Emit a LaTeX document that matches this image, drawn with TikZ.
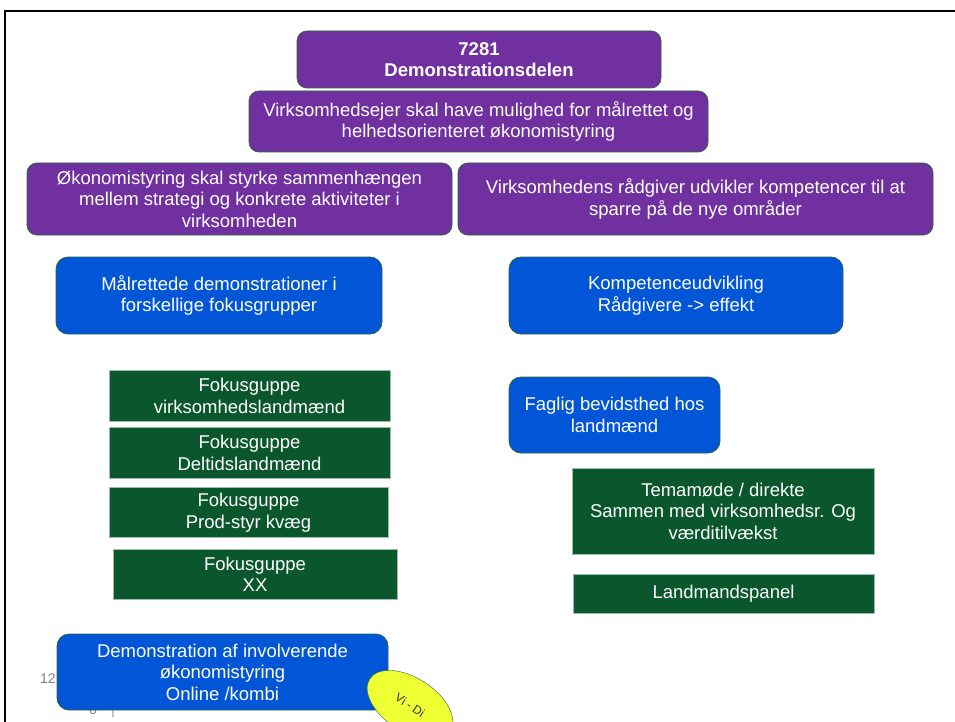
\documentclass[tikz,border=0pt]{standalone}
\usepackage{fontspec}
\setmainfont{Liberation Sans}
\usetikzlibrary{shapes.geometric}
\definecolor{lilla}{HTML}{7030A0}
\definecolor{blaa}{HTML}{0056D6}
\definecolor{groen}{HTML}{0B572D}
\definecolor{kant}{HTML}{2E6440}
\definecolor{gul}{HTML}{EEFF33}

\begin{document}
\begin{tikzpicture}[x=1pt, y=-1pt,
 every node/.style={font=\fontsize{18.5}{21.5}\selectfont, align=center, inner sep=0pt},
 purplebox/.style={draw=kant, fill=lilla, text=white, rounded corners=10pt, line width=0.8pt},
 bluebox/.style={draw=kant, fill=blaa, text=white, rounded corners=12pt, line width=0.8pt},
 greenbox/.style={draw=groen!40, fill=groen, text=white, line width=0.6pt},
 slidetext/.style={text=gray, font=\fontsize{14}{16}\selectfont}]

\useasboundingbox (0,0) rectangle (955,722);

\draw[line width=2pt] (5,740) -- (5,11) -- (970,11);

\node[slidetext] (nr) at (48,679) {12};
\node[slidetext] (sek) at (93,710) {6};
\node[slidetext, font=\fontsize{11}{13}\selectfont] (streg) at (113,713) {|};

\node[purplebox, minimum width=364pt, minimum height=57pt] (t) at (479,59.5) {\textbf{7281}\\\textbf{Demonstrationsdelen}};
\node[purplebox, minimum width=459pt, minimum height=61pt] (g) at (478.5,121.5) {Virksomhedsejer skal have mulighed for målrettet og\\helhedsorienteret økonomistyring};
\node[purplebox, minimum width=425pt, minimum height=72pt] (ml) at (239.5,199) {Økonomistyring skal styrke sammenhængen\\mellem strategi og konkrete aktiviteter i\\virksomheden};
\node[purplebox, minimum width=475pt, minimum height=72pt] (mr) at (695.5,199) {Virksomhedens rådgiver udvikler kompetencer til at\\sparre på de nye områder};

\node[bluebox, minimum width=326pt, minimum height=77pt] (bl) at (219,295.5) {Målrettede demonstrationer i\\forskellige fokusgrupper};
\node[bluebox, minimum width=334pt, minimum height=77pt] (br) at (676,295.5) {Kompetenceudvikling\\Rådgivere -> effekt};

\foreach \n/\x/\y/\w/\t in {1/249.5/396/281/virksomhedslandmænd, 2/249.5/453/281/Deltidslandmænd, 3/248.5/512.5/279/Prod-styr kvæg, 4/255/574.5/284/XX}
\node[greenbox, minimum width=\w pt, minimum height=50.5pt] (f\n) at (\x,\y) {Fokusguppe\\\t};

\node[bluebox, minimum width=211pt, minimum height=76pt] (fb) at (614.5,415) {Faglig bevidsthed hos\\landmænd};
\node[greenbox, minimum width=302pt, minimum height=86pt] (tm) at (723,511) {Temamøde / direkte\\Sammen med virksomhedsr. Og\\værditilvækst};
\node[greenbox, minimum width=301pt, minimum height=39pt] (lp) at (723.5,593.5) {Landmandspanel};

\node[bluebox, minimum width=331pt, minimum height=76pt] (dk) at (222.5,672) {Demonstration af involverende\\økonomistyring\\Online /kombi};

\node[ellipse, draw=kant, fill=gul, minimum width=96pt, minimum height=54pt, rotate=-33, text=black!80, font=\fontsize{12}{14}\selectfont] (vd) at (410,705) {Vi - Di};

\end{tikzpicture}
\end{document}
